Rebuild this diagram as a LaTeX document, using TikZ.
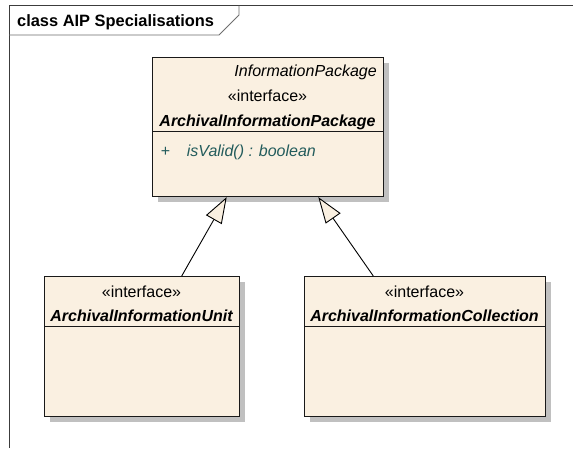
\documentclass[tikz,border=0pt]{standalone}
\usepackage{fontspec}
\setmainfont{Liberation Sans}
\usetikzlibrary{arrows.meta,shadows}
\definecolor{boxfill}{RGB}{250,240,225}
\definecolor{shadowgray}{RGB}{192,192,192}
\definecolor{opteal}{RGB}{35,92,92}
\definecolor{framecol}{RGB}{60,60,60}
\definecolor{tabcol}{RGB}{110,110,110}
\begin{document}
\begin{tikzpicture}[x=1pt,y=-1pt,
  box/.style={draw=black!90, line width=1.1pt, fill=boxfill, inner sep=0pt,
    anchor=north west,
    drop shadow={shadow xshift=5pt,shadow yshift=-5pt,fill=shadowgray,opacity=1}},
  txt/.style={inner sep=0pt, anchor=base, font=\fontsize{16}{19}\selectfont},
  gen/.style={line width=0.9pt, -{Triangle[length=26pt,width=18pt,fill=boxfill,line width=0.9pt]}}
]
\useasboundingbox (0,0) rectangle (573,448);
\fill[white] (0,0) rectangle (573,448);
% frame
\draw[framecol, line width=0.8pt] (9,448) -- (9,5.5) -- (573,5.5);
\draw[tabcol, line width=0.8pt] (9,35) -- (219,35) -- (239,15) -- (239,5.5);
\node[txt, anchor=base west, font=\fontsize{16.4}{19}\selectfont\bfseries] (title) at (17,26.7) {class AIP Specialisations};
% boxes
\node[box, minimum width=231pt, minimum height=139pt] (main) at (152,57) {};
\node[box, minimum width=195pt, minimum height=140pt] (unit) at (44,276) {};
\node[box, minimum width=241pt, minimum height=140pt] (coll) at (304,276) {};
% separators
\draw[black!90, line width=1pt] ([yshift=-74.7pt]main.north west) -- ([yshift=-74.7pt]main.north east);
\draw[black!90, line width=1pt] ([yshift=-50.7pt]unit.north west) -- ([yshift=-50.7pt]unit.north east);
\draw[black!90, line width=1pt] ([yshift=-50.7pt]coll.north west) -- ([yshift=-50.7pt]coll.north east);
% main texts
\node[txt, anchor=base east, font=\fontsize{16}{19}\selectfont\itshape] (mparent) at (377,76.7) {InformationPackage};
\node[txt] (mster) at (267.5,101) {«interface»};
\node[txt, font=\fontsize{16}{19}\selectfont\bfseries\itshape] (mname) at (267.5,126) {ArchivalInformationPackage};
\node[txt, anchor=base west, text=opteal] (mplus) at (160.7,156) {+};
\node[txt, anchor=base west, text=opteal, font=\fontsize{16}{19}\selectfont\itshape] (mop) at (186.7,156) {isValid() : boolean};
% unit texts
\node[txt] (uster) at (141.5,297) {«interface»};
\node[txt, font=\fontsize{16}{19}\selectfont\bfseries\itshape] (uname) at (141.5,321) {ArchivalInformationUnit};
% collection texts
\node[txt] (cster) at (424.5,297) {«interface»};
\node[txt, font=\fontsize{16}{19}\selectfont\bfseries\itshape] (cname) at (424.5,321) {ArchivalInformationCollection};
% generalisations
\draw[gen] ([xshift=137.7pt]unit.north west) -- ([xshift=74.7pt]main.south west);
\draw[gen] ([xshift=69.3pt]coll.north west) -- ([xshift=166.3pt]main.south west);
\end{tikzpicture}
\end{document}
